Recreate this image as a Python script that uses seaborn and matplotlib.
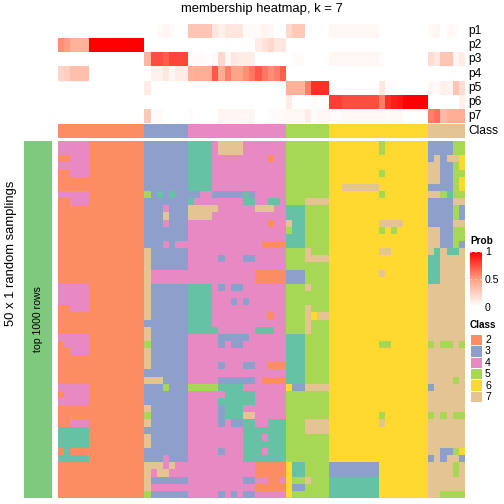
# Heatmap de pertenencia, k = 7
import numpy as np
import pandas as pd
import seaborn as sns
import matplotlib.pyplot as plt
from matplotlib.colors import LinearSegmentedColormap, ListedColormap

sns.set_theme(style="white")
plt.rcParams['font.family'] = ['Liberation Sans', 'DejaVu Sans']

# ------------------------------DATOS------------------------------
filas_prob = ["p1", "p2", "p3", "p4", "p5", "p6", "p7"]

p1 = [0]*14 + [0, 0, .03, .05, .02, 0, 0] \
    + [.3, .3, .3, .3, .13, .08, .13, .13, .13, .03, .02, .03, .06, .04, 0, 0] \
    + [.2, .28, .28, 0, 0, 0, 0] + [.04]*8 + [0]*8 + [.03, .05, 0, .04, .02, 0]
p2 = [.55, .5, .4, .4, .4] + [1]*9 + [0]*7 \
    + [0]*11 + [.1, .14, .2, .13, .13] + [0]*7 + [0]*16 + [0]*6
p3 = [0]*14 + [.38, .75, .75, .7, .78, .78, .78] \
    + [.02, .02, .02, 0, .03, .2, .04, .13, .1, .1, .1, 0, 0, 0, 0, 0] \
    + [0, .02, .02, 0, 0, 0, 0] + [.04]*8 + [.02] + [0]*7 + [.18, .12, .3, .3, .05, .1]
p4 = [.22, .25, .33, .33, .33] + [0]*9 + [0, .07, .07, .13, .05, .1, .1] \
    + [.4, .42, .42, .42, .72, .42, .6, .47, .47, .55, .62, .72, .62, .55, .6, .7] \
    + [0]*7 + [0]*16 + [0]*6
p5 = [0]*14 + [.1] + [0]*6 + [0]*16 + [.4, .4, .4, .6, .85, .85, .85] \
    + [0]*8 + [.12, .02, .02, 0, 0, 0, 0, 0] + [.04, .03, .08, .06, .3, .18]
p6 = [0]*14 + [0]*7 + [0]*16 + [.1, 0, 0, 0, .02, 0, 0] \
    + [.8, .8, .75, .75, .75, .75, .75, .75, .6, .85, .9, .93, 1, 1, 1, 1] \
    + [0, 0, 0, 0, 0, .08]
p7 = [0]*14 + [.28, .02, .03, 0, 0, 0, 0] \
    + [.02, 0, 0, 0, 0, .05, .05, .05, .05, .05, .05, 0, 0, .02, .02, .03] \
    + [.04, .04, .04, .1, .02, .04, .04] \
    + [.02, .02, .04, .04, .04, .04, .04, .04, .04, .03, .04, .04, 0, 0, 0, 0] \
    + [.6, .65, .35, .42, .42, .42]

clases_leyenda = [2, 3, 4, 5, 6, 7]
tam_clases = [14, 7, 16, 7, 16, 6]

# Cada fila: tramos de las clases 2, 3, 4, 5, 6 y 7
filas_clase = [
    "44444222222222 3333333 1111477774444444 5555555 6666666656666666 333355",
    "44444222222222 3333333 1111477774444444 5555555 6666666656666666 333355",
    "22444222222222 3333333 1111444444444244 5555555 6666666666666666 373776",
    "44444222222222 3333333 1111444444444444 5555555 6666666666666666 773356",
    "22444222222222 3333333 1111444444444444 5555555 6666666656666666 773355",
    "22222222222222 3333333 1111444444444444 5555555 6666666666666666 773356",
    "22222222222222 3333333 1111444444444444 5555555 6677777766666666 333356",
    "44444222222222 5313133 3344333331344444 5555555 6666666656666666 775155",
    "22444222222222 3333333 1444444441144114 5557777 6666666666666666 333377",
    "22222222222222 3334333 7777744444477744 1115555 6666666666666666 333353",
    "22222222222222 3337333 7777444444444444 1115555 6666666666666666 333353",
    "22222222222222 3334333 4444444444444244 7115555 6666666677776666 333377",
    "22222222222222 3333333 4444444444444444 5115555 6666666656566666 773355",
    "22222222222222 3333333 4444444444444444 1115555 6666666666666666 773355",
    "22222222222222 3334344 4444444444442222 1115555 6666666666666666 773353",
    "22222222222222 7333333 4444444444444444 5557555 6666666677666666 717117",
    "22222222222222 7333333 4444434443344444 5557777 6666666666666666 117777",
    "22222222222222 7333333 4444444444444444 5555555 6666666666666666 117777",
    "22222222222222 7444444 4444444444422222 3335555 6666666676666666 117777",
    "22222222222222 7444444 4444444444422222 3335555 6666666666666666 117777",
    "44444222222222 7333333 1111434334444444 5557555 6666666666666666 777777",
    "44444222222222 7333333 1111444444444444 5555555 6666666666666666 777777",
    "44444222222222 7333333 1111444343444444 5555555 6666666666666666 777777",
    "22444222222222 7333333 1111444444444444 5557555 6666666666666666 777777",
    "22222222222222 7333333 1111444444444244 5557677 6666666666666666 777777",
    "22222222222222 3333333 1111444444444444 5557555 6666666666666666 777777",
    "22222222222222 7333333 1111144444411144 5557555 6666666666666666 777777",
    "44444222222222 7333333 4444433333444444 1115555 6666666666666666 777777",
    "24444222222222 5333333 4444434334444444 1115555 6666666655666666 575575",
    "22444222222222 7333333 4444444444444444 1115555 6666666666666666 777777",
    "22222222222222 7333333 4444444444444444 1115555 6666666666666666 777777",
    "22222222222222 7333333 4444434443344222 1115555 6666666666666666 777777",
    "22222222222222 3333333 4444444444444444 1115555 6666666666666666 777777",
    "22222222222222 7773333 4444433333342222 1115555 6666666666666666 777757",
    "44444222222222 3335333 5555511114444444 6337777 6666666666666666 377777",
    "24444222222222 3333333 4444441111144444 5555555 6666666666666666 777777",
    "44444222222222 3333333 4444411111144444 5555555 6666666666666666 777777",
    "22222222222222 7333333 4444431114444444 5555555 6666666666666666 777777",
    "22222222222222 5333333 4444431117744444 5555555 6666666656666666 575755",
    "22444222222222 7333333 4444434331144111 5557777 6666666676666666 777777",
    "11111222222222 3333333 4444444441111111 5557777 6666666666666666 777777",
    "11111222222222 7333333 4444444441114111 5555555 6666666666666666 777777",
    "11111222222222 7333333 4444444441111111 5555555 6666666666666666 777777",
    "21222222222222 3333333 4444434441114111 5555555 6666666666666666 773356",
    "11111222222222 3334333 4444444441111111 5555555 6666666666666666 373773",
    "22222222222222 7774744 4444444444422222 6115555 3333333366666666 777757",
    "22222222222222 7477444 4444444444422222 6115555 3333333366666666 777757",
    "22222222222222 7333333 4444444443344224 6557555 1111111166666666 777777",
    "22222222222222 7444444 4444444444422222 6335555 1111111166666666 777777",
    "22222222222222 5333333 4444434343344444 6555555 1111111166666666 775555",
]

# Colores
colores_clase = ["#66C2A5", "#FC8D62", "#8DA0CB", "#E78AC3", "#A6D854", "#FFD92F", "#E5C494"]
cmap_clase = ListedColormap(colores_clase)
cmap_prob = LinearSegmentedColormap.from_list("prob", ["#FFFFFF", "#FF9E81", "#FF0000"])


# ------------------------------FUNCIONES------------------------------
def eje(x0, y0, x1, y1):
    """Crea un eje a partir de sus coordenadas en píxeles."""
    return fig.add_axes([x0/504, 1 - y1/504, (x1 - x0)/504, (y1 - y0)/504])


def mapa_clases(ax, datos, **kwargs):
    """Dibuja una matriz de clases con su paleta discreta."""
    sns.heatmap(datos, ax=ax, cmap=cmap_clase, vmin=0.5, vmax=7.5, cbar=False,
                xticklabels=False, yticklabels=False, **kwargs)


# ------------------------------GRÁFICO------------------------------
fig = plt.figure(figsize=(7, 7), dpi=72)

# Probabilidades p1-p7 con su barra de color
prob = pd.DataFrame([p1, p2, p3, p4, p5, p6, p7], index=filas_prob)
ax_prob = eje(58, 24, 465, 123)
cax = eje(470, 250, 482, 306)
sns.heatmap(prob, ax=ax_prob, cmap=cmap_prob, vmin=0, vmax=1, cbar_ax=cax,
            xticklabels=False, yticklabels=False)
cax.set_ylim(-0.0, 1.04)
cax.set_yticks([0, 0.5, 1])
cax.tick_params(length=0, labelright=False, labelleft=False)
cax.hlines([0.5, 1], 0, 1, color="white", lw=0.7, ls=(0, (2, 5)), transform=cax.get_yaxis_transform())

for i, fila in enumerate(filas_prob):
    ax_prob.text(1.0075, 1 - (i + 0.5)/7, fila, transform=ax_prob.transAxes, fontsize=12,
                 va="center", ha="left", color="black", clip_on=False)

# Barra de clase superior
barra_clase = np.repeat(clases_leyenda, tam_clases).reshape(1, -1)
ax_clase = eje(58, 124, 465, 138)
mapa_clases(ax_clase, barra_clase)
ax_clase.text(1.0075, 0.5, "Class", transform=ax_clase.transAxes, fontsize=12,
              va="center", ha="left", color="black")

# Matriz principal
matriz = np.array([[int(c) for c in fila.replace(" ", "")] for fila in filas_clase])
ax_main = eje(58, 141, 465, 498)
mapa_clases(ax_main, matriz)

# Barra izquierda
ax_izq = eje(24, 141, 52, 498)
sns.heatmap([[1]], ax=ax_izq, cmap=ListedColormap(["#7FC97F"]), cbar=False,
            xticklabels=False, yticklabels=False)
ax_izq.text(0.5, 0.5, "top 1000 rows", transform=ax_izq.transAxes, rotation=90,
            fontsize=10.5, va="center", ha="center", color="black")

# Textos generales
fig.text(262/504, 1 - 9/504, "membership heatmap, k = 7", fontsize=13,
         ha="center", va="center", color="black")
fig.text(11/504, 1 - 253/504, "50 x 1 random samplings", fontsize=13, rotation=90,
         ha="center", va="center", color="black")

# Leyenda de probabilidad
fig.text(470/504, 1 - 241/504, "Prob", fontsize=10, fontweight="bold", ha="left",
         va="center", color="black")
for etiqueta, y in zip(["1", "0.5", "0"], [252, 280, 308]):
    fig.text(485/504, 1 - y/504, etiqueta, fontsize=10.5, ha="left", va="center", color="black")

# Leyenda de clases
fig.text(470/504, 1 - 325/504, "Class", fontsize=10, fontweight="bold", ha="left",
         va="center", color="black")
ax_ley = eje(470, 334, 482, 402)
mapa_clases(ax_ley, np.array(clases_leyenda).reshape(-1, 1), linewidths=0.8, linecolor="white")
for i, clase in enumerate(clases_leyenda):
    fig.text(485/504, 1 - (340 + i*11.4)/504, str(clase), fontsize=10.5, ha="left",
             va="center", color="black")

fig.savefig("out.png", dpi=72)
